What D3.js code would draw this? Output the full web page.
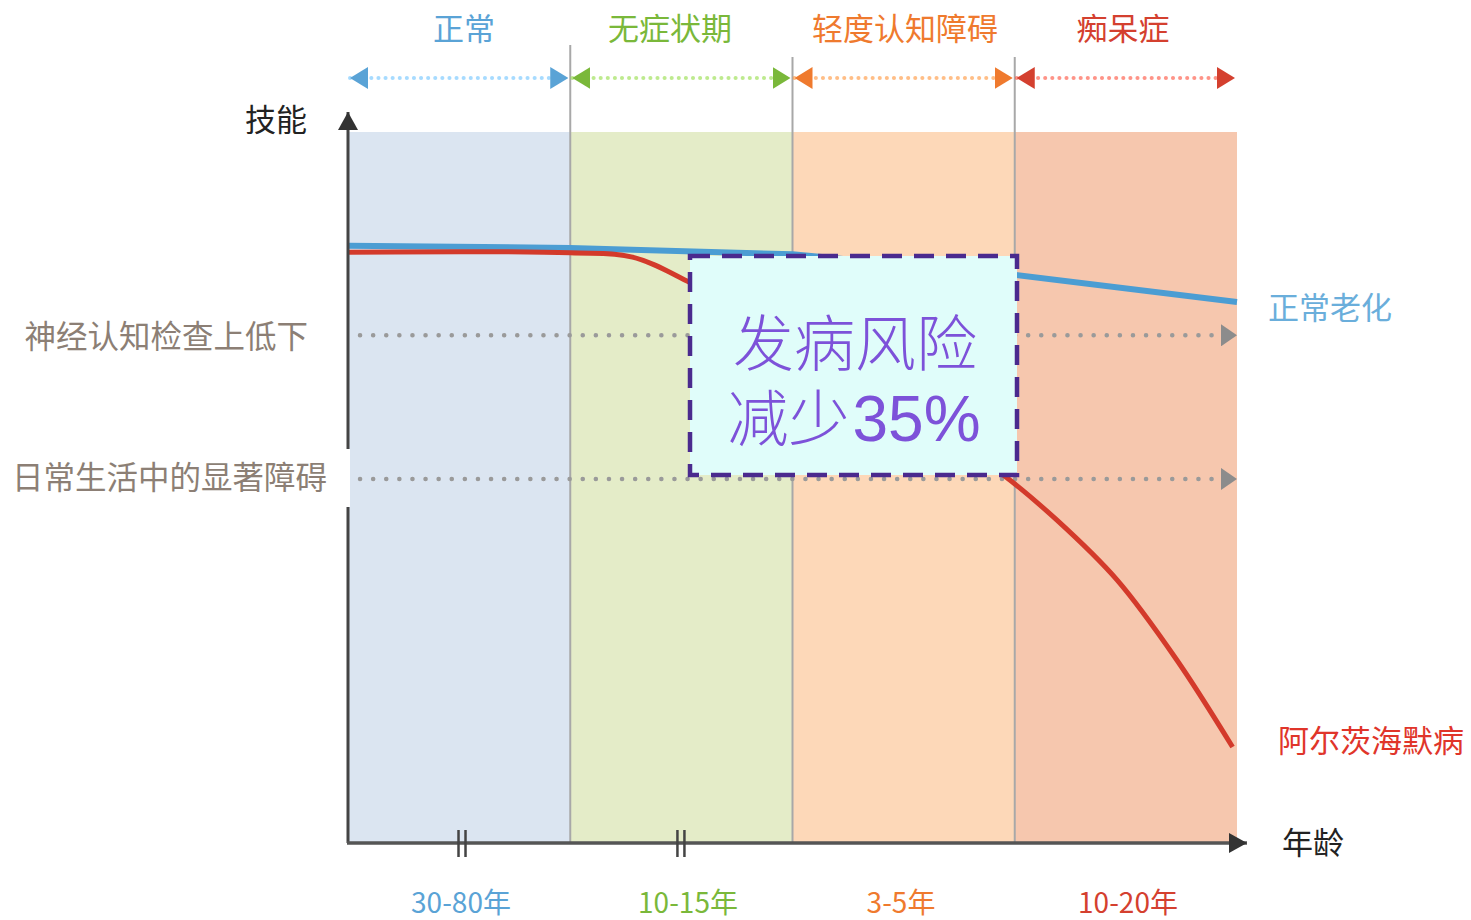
<!DOCTYPE html>
<html><head><meta charset="utf-8">
<script src="https://cdn.jsdelivr.net/npm/d3@7"></script>
<style>
html,body{margin:0;padding:0;background:#fff;}
svg{display:block;font-family:"Noto Sans CJK SC","Noto Sans",sans-serif;}
</style></head>
<body><svg id="c" width="1471" height="920"></svg>
<script>
// ---- data ----
const stages = ["正常", "无症状期", "轻度认知障碍", "痴呆症"];
const durations = ["30-80年", "10-15年", "3-5年", "10-20年"];
const stageColors = ["#5aa3d6", "#7ab83a", "#ef7a2e", "#d4402f"];
const bandColors = ["#dbe5f1", "#e4ecc8", "#fdd8b8", "#f6c7ae"];
const levelLabels = ["神经认知检查上低下", "日常生活中的显著障碍"];
const levelValues = [71.4, 51.2];
const normalX = [0, 1, 2, 3, 4];
const normalY = [84.0, 83.7, 82.8, 79.9, 76.1];
const adX = [0, 1, 1.28, 1.54, 2.0, 2.5, 2.947, 3.19, 3.46, 3.73, 3.98];
const adY = [83.1, 83.0, 82.4, 78.8, 70.9, 61.2, 51.8, 45.4, 37.0, 25.7, 13.5];
const seriesNames = ["正常老化", "阿尔茨海默病"];
const boxLine1 = "发病风险";
const boxLine2 = ["减少", "35%"];
const axisNames = ["技能", "年龄"];

// ---- layout ----
const svg = d3.select("#c");
const x = d3.scaleLinear().domain([0, 4]).range([348, 1237]);
const y = d3.scaleLinear().domain([0, 100]).range([843, 132]);
const FS = 31;

// bands
svg.selectAll("rect.band").data(stages).join("rect")
  .attr("x", (d, i) => x(i)).attr("y", y(100))
  .attr("width", (d, i) => x(i + 1) - x(i)).attr("height", y(0) - y(100))
  .attr("fill", (d, i) => bandColors[i]);

// separators
svg.selectAll("line.sep").data([1, 2, 3]).join("line")
  .attr("x1", d => x(d)).attr("x2", d => x(d))
  .attr("y1", d => d === 1 ? 45 : 57).attr("y2", y(0))
  .attr("stroke", "#a8a8a8").attr("stroke-width", 2);

// defs: arrow markers
const defs = svg.append("defs");
function tri(id, color, w, h) {
  defs.append("marker").attr("id", id).attr("viewBox", `0 0 ${w} ${h}`)
    .attr("refX", w).attr("refY", h / 2).attr("markerWidth", w).attr("markerHeight", h)
    .attr("markerUnits", "userSpaceOnUse").attr("orient", "auto-start-reverse")
    .append("path").attr("d", `M0,0L${w},${h / 2}L0,${h}Z`).attr("fill", color);
}
stageColors.forEach((c, i) => tri("m" + i, c, 18, 22));
tri("mg", "#8c8c8c", 16, 22);
tri("mk", "#333", 18, 20);

// top stage arrows
const topY = 78;
stages.forEach((s, i) => {
  svg.append("line")
    .attr("x1", x(i) + 2).attr("x2", x(i + 1) - 2).attr("y1", topY).attr("y2", topY)
    .attr("stroke", d3.color(stageColors[i]).brighter(0.5)).attr("stroke-opacity", 0.6)
    .attr("stroke-width", 4).attr("stroke-dasharray", "0.1,7").attr("stroke-linecap", "round")
    .attr("marker-start", `url(#m${i})`).attr("marker-end", `url(#m${i})`);
});
svg.selectAll("text.stage").data(stages).join("text")
  .attr("x", (d, i) => [464, 670, 905, 1123][i]).attr("y", 29).attr("dy", "0.35em")
  .attr("text-anchor", "middle").attr("font-size", FS)
  .attr("fill", (d, i) => stageColors[i]).text(d => d);

// reference dotted levels
levelValues.forEach(v => {
  svg.append("line")
    .attr("x1", 360).attr("x2", x(4)).attr("y1", y(v)).attr("y2", y(v))
    .attr("stroke", "#9a9a9a").attr("stroke-width", 4.5).attr("stroke-dasharray", "0.1,13")
    .attr("stroke-linecap", "round").attr("marker-end", "url(#mg)");
});

// lines
const line = d3.line().x(d => x(d[0])).y(d => y(d[1])).curve(d3.curveCatmullRom.alpha(0.5));
svg.append("path").datum(normalX.map((v, i) => [v, normalY[i]]))
  .attr("d", d3.line().x(d => x(d[0])).y(d => y(d[1])))
  .attr("fill", "none").attr("stroke", "#4b9dd3").attr("stroke-width", 6);
svg.append("path").datum(adX.map((v, i) => [v, adY[i]]))
  .attr("d", line).attr("fill", "none").attr("stroke", "#d33a2b").attr("stroke-width", 5);

// box
const bx = 690, by = 256, bw = 327, bh = 219;
svg.append("rect").attr("x", bx).attr("y", by).attr("width", bw).attr("height", bh)
  .attr("fill", "#e0fdfa").attr("stroke", "#4a2a8e").attr("stroke-width", 4.5)
  .attr("stroke-dasharray", "20,12");
svg.append("text").attr("x", 855).attr("y", 345).attr("dy", "0.35em")
  .attr("text-anchor", "middle").attr("font-size", 61).attr("font-weight", 300)
  .attr("fill", "#7d52d9").text(boxLine1);
const t2 = svg.append("text").attr("x", 854).attr("y", 420).attr("dy", "0.35em")
  .attr("text-anchor", "middle").attr("font-size", 61).attr("font-weight", 300)
  .attr("fill", "#7d52d9");
t2.append("tspan").text(boxLine2[0]);
t2.append("tspan").attr("font-family", "'Liberation Sans',Arial,sans-serif")
  .attr("font-weight", 400).attr("font-size", 64).attr("dx", 3).text(boxLine2[1]);

// white mask behind second level label (breaks the y axis)
svg.append("rect").attr("x", 8).attr("y", 449).attr("width", 342).attr("height", 58).attr("fill", "#fff");

// axes
svg.append("line").attr("x1", x(0)).attr("x2", x(0)).attr("y1", y(0)).attr("y2", 112)
  .attr("stroke", "#444").attr("stroke-width", 3).attr("marker-end", "url(#mk)");
svg.append("rect").attr("x", 340).attr("y", 449).attr("width", 10).attr("height", 58).attr("fill", "#fff");
svg.append("line").attr("x1", x(0) - 1).attr("x2", 1247).attr("y1", y(0)).attr("y2", y(0))
  .attr("stroke", "#555").attr("stroke-width", 3.5).attr("marker-end", "url(#mk)");

// break marks
[0.513, 1.498].forEach(t => {
  [-3.5, 3.5].forEach(o => {
    svg.append("line").attr("x1", x(t) + o).attr("x2", x(t) + o).attr("y1", 830).attr("y2", 857)
      .attr("stroke", "#444").attr("stroke-width", 2.5);
  });
});

// left level labels
svg.selectAll("text.lvl").data(levelLabels).join("text")
  .attr("x", (d, i) => [308, 327][i]).attr("y", (d, i) => [337, 478][i]).attr("dy", "0.35em")
  .attr("text-anchor", "end").attr("font-size", 31.5).attr("fill", "#8c7f75").text(d => d);

// axis names
svg.append("text").attr("x", 307).attr("y", 120).attr("dy", "0.35em").attr("text-anchor", "end")
  .attr("font-size", FS).attr("fill", "#222").text(axisNames[0]);
svg.append("text").attr("x", 1282).attr("y", 843).attr("dy", "0.35em")
  .attr("font-size", FS).attr("fill", "#222").text(axisNames[1]);

// series labels
svg.append("text").attr("x", 1268).attr("y", 308).attr("dy", "0.35em")
  .attr("font-size", FS).attr("fill", "#6aaedb").text(seriesNames[0]);
svg.append("text").attr("x", 1278).attr("y", 741).attr("dy", "0.35em")
  .attr("font-size", FS).attr("fill", "#e0352a").text(seriesNames[1]);

// bottom durations
svg.selectAll("text.dur").data(durations).join("text")
  .attr("x", (d, i) => [461, 688, 901, 1128][i]).attr("y", 903).attr("dy", "0.35em")
  .attr("text-anchor", "middle").attr("font-size", 28)
  .attr("fill", (d, i) => stageColors[i]).text(d => d);
</script></body></html>
